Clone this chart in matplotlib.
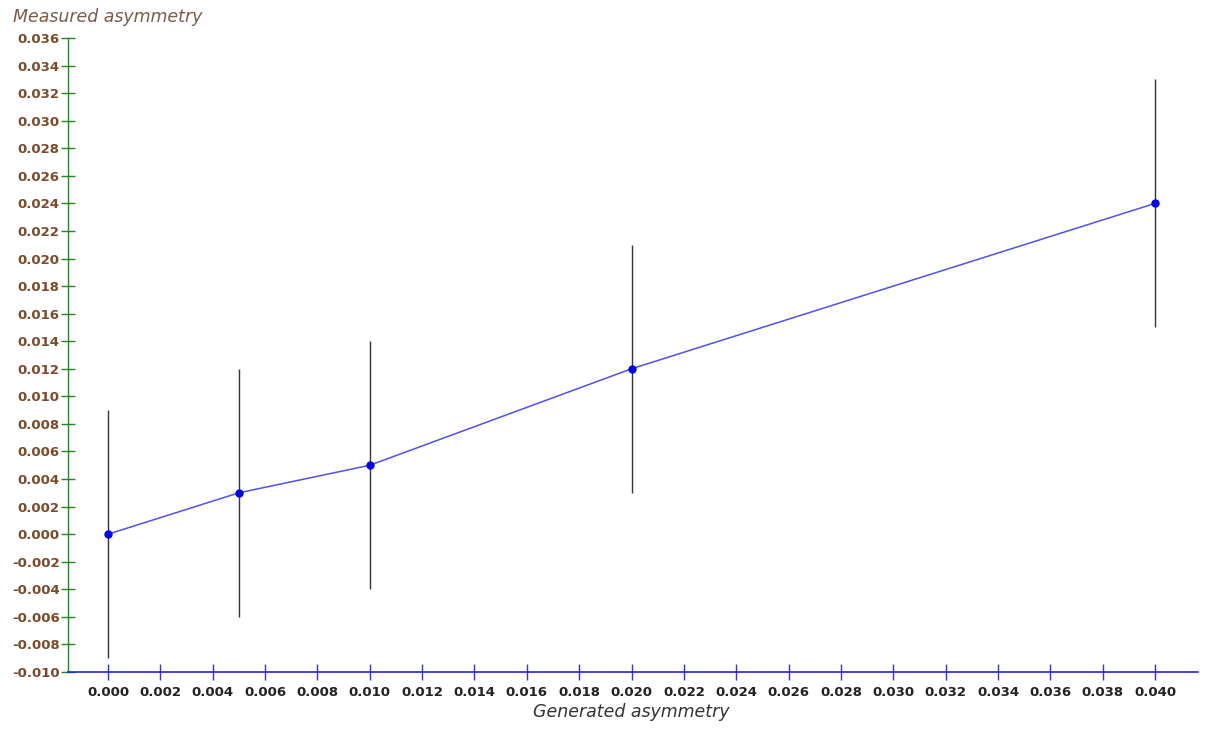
import matplotlib
matplotlib.use("Agg")
import matplotlib.pyplot as plt
import numpy as np

generated = [0.000, 0.005, 0.010, 0.020, 0.040]
measured = [0.000, 0.003, 0.005, 0.012, 0.024]
errors = [0.009, 0.009, 0.009, 0.009, 0.009]
x_ticks = [round(0.002 * i, 3) for i in range(21)]
y_ticks = [round(-0.010 + 0.002 * i, 3) for i in range(24)]

fig = plt.figure(figsize=(12.06, 7.31), dpi=100)
ax = fig.add_axes([68/1206, 1-672/731, (1198-68)/1206, (672-38)/731])

ax.errorbar(generated, measured, yerr=errors, fmt='none', ecolor='#333333',
            elinewidth=1.0, capsize=0, zorder=2)
ax.plot(generated, measured, color='#5050ee', lw=1.1, zorder=3)
ax.plot(generated, measured, 'o', color='#0000ee', ms=5, zorder=4)

ax.set_xlim(-0.001528, 0.04164)
ax.set_ylim(-0.010, 0.036)
ax.set_xticks(x_ticks)
ax.set_yticks(y_ticks)
ax.set_xticklabels([f"{v:.3f}" for v in x_ticks])
ax.set_yticklabels([f"{v:.3f}" for v in y_ticks])

for s in ['top', 'right']:
    ax.spines[s].set_visible(False)
ax.spines['left'].set_color('#228822')
ax.spines['bottom'].set_color('#2222dd')
ax.spines['left'].set_linewidth(1.0)
ax.spines['bottom'].set_linewidth(1.2)

ax.tick_params(axis='y', direction='inout', length=10, width=1.0, color='#228822',
               labelcolor='#7a4a2a', labelsize=9.5, pad=1)
ax.tick_params(axis='x', direction='inout', length=12, width=1.0, color='#3333dd',
               labelcolor='#222222', labelsize=9.5, pad=4)
for lbl in ax.get_xticklabels() + ax.get_yticklabels():
    lbl.set_fontweight('bold')

fig.text(13/1206, 1-17/731, 'Measured asymmetry', fontsize=12.5, style='italic',
         color='#7a5a48', ha='left', va='center')
fig.text(631/1206, 1-712/731, 'Generated asymmetry', fontsize=12.5, style='italic',
         color='#333333', ha='center', va='center')

fig.savefig('out.png', dpi=100)
